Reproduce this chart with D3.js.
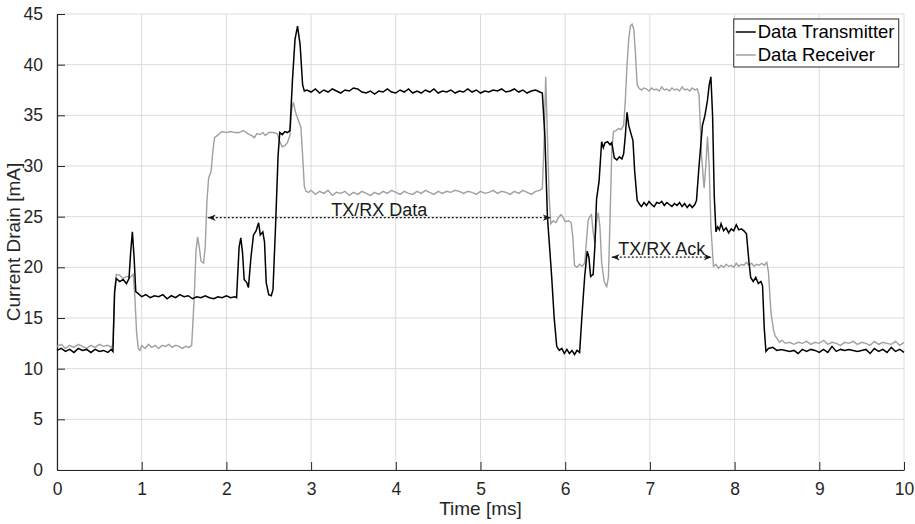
<!DOCTYPE html>
<html>
<head>
<meta charset="utf-8">
<script src="https://cdn.jsdelivr.net/npm/d3@7"></script>
<style>
  body { margin: 0; background: #fff; }
  svg { font-family: "Liberation Sans", Arial, sans-serif; }
</style>
</head>
<body>
<script>
// transmitter current [time ms, mA]
var txData = [
  [0.00,11.8],[0.05,12.0],[0.10,11.7],[0.15,11.9],[0.20,11.6],[0.25,12.0],[0.30,11.8],[0.35,11.9],[0.40,11.6],[0.45,11.9],
  [0.50,11.7],[0.55,11.8],[0.60,11.6],[0.64,11.9],[0.66,11.7],[0.68,17.5],[0.70,18.9],[0.74,18.6],[0.78,18.8],[0.82,18.4],
  [0.85,18.9],[0.87,21.5],[0.89,23.5],[0.91,21.0],[0.93,17.6],[0.96,17.4],[1.00,17.1],[1.05,17.3],[1.10,17.0],[1.15,17.2],
  [1.20,17.1],[1.25,17.3],[1.30,16.9],[1.35,17.2],[1.40,17.0],[1.45,17.3],[1.50,17.1],[1.55,17.2],[1.60,16.9],[1.65,17.1],
  [1.70,17.0],[1.75,17.2],[1.80,17.0],[1.85,16.9],[1.90,17.1],[1.95,17.0],[2.00,17.2],[2.05,17.0],[2.10,17.1],[2.12,17.0],
  [2.15,22.0],[2.17,22.9],[2.19,21.5],[2.21,18.8],[2.24,18.5],[2.26,18.0],[2.29,21.0],[2.32,23.2],[2.35,23.6],[2.38,24.4],
  [2.40,23.2],[2.43,23.5],[2.45,22.5],[2.47,18.5],[2.50,17.3],[2.53,17.2],[2.55,17.8],[2.58,24.0],[2.61,31.0],[2.63,33.3],
  [2.66,33.1],[2.69,33.4],[2.72,33.3],[2.75,33.5],[2.78,38.5],[2.81,42.5],[2.84,43.8],[2.87,42.0],[2.90,38.0],[2.92,37.4],
  [2.95,37.5],[3.00,37.3],[3.05,37.6],[3.10,37.2],[3.15,37.5],[3.20,37.3],[3.25,37.6],[3.30,37.4],[3.35,37.2],[3.40,37.5],
  [3.45,37.4],[3.50,37.7],[3.55,37.6],[3.60,37.3],[3.65,37.2],[3.70,37.4],[3.75,37.1],[3.80,37.4],[3.85,37.3],[3.90,37.6],
  [3.95,37.3],[4.00,37.2],[4.05,37.5],[4.10,37.3],[4.15,37.6],[4.20,37.2],[4.25,37.4],[4.30,37.2],[4.35,37.5],[4.40,37.3],
  [4.45,37.6],[4.50,37.2],[4.55,37.4],[4.60,37.3],[4.65,37.5],[4.70,37.2],[4.75,37.4],[4.80,37.3],[4.85,37.6],[4.90,37.3],
  [4.95,37.5],[5.00,37.2],[5.05,37.4],[5.10,37.3],[5.15,37.5],[5.20,37.4],[5.25,37.6],[5.30,37.3],[5.35,37.4],[5.40,37.6],
  [5.45,37.3],[5.50,37.5],[5.55,37.2],[5.60,37.4],[5.65,37.5],[5.70,37.3],[5.73,37.2],[5.76,33.0],[5.79,25.0],[5.82,21.5],
  [5.84,19.1],[5.87,15.0],[5.90,12.2],[5.93,11.8],[5.96,12.0],[5.99,11.5],[6.02,11.9],[6.05,11.5],[6.08,11.8],[6.11,11.4],
  [6.14,11.8],[6.17,11.6],[6.20,15.5],[6.23,19.1],[6.26,21.6],[6.28,21.0],[6.30,19.1],[6.33,19.3],[6.35,22.0],[6.37,26.7],
  [6.40,28.5],[6.43,32.4],[6.45,31.8],[6.47,32.3],[6.50,32.4],[6.53,32.1],[6.55,32.3],[6.58,30.8],[6.61,30.6],[6.64,30.9],
  [6.67,30.7],[6.69,31.2],[6.71,33.0],[6.73,35.3],[6.75,34.0],[6.78,33.1],[6.80,32.5],[6.82,29.5],[6.85,26.6],[6.88,26.2],
  [6.90,26.0],[6.93,26.4],[6.96,26.1],[6.99,26.5],[7.02,26.2],[7.05,26.0],[7.08,26.4],[7.11,26.3],[7.14,26.5],[7.17,26.1],
  [7.20,26.4],[7.23,26.2],[7.26,26.0],[7.29,26.3],[7.32,26.1],[7.35,26.4],[7.38,26.0],[7.41,26.3],[7.44,25.9],[7.47,26.2],
  [7.50,25.9],[7.53,26.2],[7.55,26.6],[7.58,30.0],[7.62,34.0],[7.65,35.0],[7.68,36.5],[7.70,38.0],[7.72,38.8],[7.74,35.0],
  [7.76,27.0],[7.78,23.5],[7.80,24.0],[7.82,23.7],[7.84,24.3],[7.87,23.6],[7.90,23.9],[7.93,23.4],[7.96,23.8],[7.99,23.6],
  [8.02,24.2],[8.05,23.7],[8.08,23.8],[8.11,23.6],[8.14,23.3],[8.17,20.5],[8.19,19.0],[8.22,18.6],[8.25,19.0],[8.28,18.4],
  [8.31,18.6],[8.33,18.2],[8.35,14.0],[8.37,11.7],[8.40,12.0],[8.45,12.1],[8.50,11.8],[8.55,11.9],[8.60,11.8],[8.65,11.7],
  [8.70,11.8],[8.75,11.5],[8.80,11.9],[8.85,11.7],[8.90,11.9],[8.95,11.8],[9.00,11.6],[9.05,11.9],[9.10,11.6],[9.15,12.2],
  [9.20,11.7],[9.25,11.9],[9.30,11.8],[9.35,11.9],[9.40,11.8],[9.45,11.7],[9.50,11.8],[9.55,11.9],[9.60,11.5],[9.65,12.0],
  [9.70,11.7],[9.75,11.9],[9.80,11.6],[9.85,12.1],[9.90,11.7],[9.95,11.9],[10.00,11.6]
];

// receiver current [time ms, mA]
var rxData = [
  [0.00,12.2],[0.05,12.4],[0.10,12.0],[0.15,12.3],[0.20,12.1],[0.25,12.4],[0.30,12.2],[0.35,12.0],[0.40,12.3],[0.45,12.1],
  [0.50,12.4],[0.55,12.2],[0.60,12.3],[0.64,12.1],[0.66,12.4],[0.68,17.8],[0.70,19.3],[0.74,19.2],[0.78,18.9],[0.82,19.1],
  [0.86,19.0],[0.90,19.3],[0.92,17.0],[0.94,13.5],[0.96,12.0],[0.98,11.8],[1.00,12.3],[1.04,12.0],[1.08,12.4],[1.12,12.1],
  [1.16,12.3],[1.20,12.0],[1.24,12.3],[1.28,12.2],[1.32,12.4],[1.36,12.1],[1.40,12.3],[1.44,12.2],[1.48,12.0],[1.52,12.2],
  [1.56,12.1],[1.59,12.3],[1.62,17.0],[1.64,21.5],[1.66,23.0],[1.68,22.0],[1.70,20.6],[1.73,20.4],[1.75,22.0],[1.77,26.5],
  [1.79,28.8],[1.82,29.5],[1.84,31.5],[1.86,32.8],[1.89,33.0],[1.92,33.2],[1.95,33.4],[2.00,33.3],[2.05,33.4],[2.10,33.3],
  [2.15,33.3],[2.20,33.5],[2.25,33.2],[2.30,33.0],[2.33,32.8],[2.36,33.2],[2.40,33.1],[2.43,33.3],[2.46,33.0],[2.50,33.3],
  [2.55,33.3],[2.60,33.2],[2.63,32.4],[2.66,31.9],[2.69,32.0],[2.72,32.3],[2.75,33.0],[2.77,35.5],[2.79,36.3],[2.82,35.2],
  [2.85,34.5],[2.88,33.8],[2.90,31.0],[2.92,28.0],[2.94,27.5],[2.97,27.4],[3.00,27.6],[3.05,27.2],[3.10,27.5],[3.15,27.3],
  [3.20,27.6],[3.25,27.1],[3.30,27.4],[3.35,27.3],[3.40,27.5],[3.45,27.1],[3.50,27.4],[3.55,27.2],[3.60,27.5],[3.65,27.3],
  [3.70,27.1],[3.75,27.4],[3.80,27.2],[3.85,27.5],[3.90,27.3],[3.95,27.6],[4.00,27.4],[4.05,27.2],[4.10,27.5],[4.15,27.3],
  [4.20,27.2],[4.25,27.5],[4.30,27.3],[4.35,27.6],[4.40,27.4],[4.45,27.2],[4.50,27.5],[4.55,27.3],[4.60,27.5],[4.65,27.4],
  [4.70,27.6],[4.75,27.5],[4.80,27.3],[4.85,27.5],[4.90,27.4],[4.95,27.2],[5.00,27.5],[5.05,27.3],[5.10,27.4],[5.15,27.6],
  [5.20,27.3],[5.25,27.5],[5.30,27.4],[5.35,27.2],[5.40,27.5],[5.45,27.3],[5.50,27.6],[5.55,27.4],[5.60,27.2],[5.65,27.5],
  [5.70,27.6],[5.73,27.8],[5.75,32.0],[5.77,38.8],[5.79,33.0],[5.81,27.0],[5.83,24.3],[5.86,24.6],[5.89,24.4],[5.92,24.9],
  [5.95,25.2],[5.97,25.0],[6.00,24.5],[6.04,24.6],[6.07,24.4],[6.09,23.0],[6.11,20.2],[6.14,20.0],[6.17,20.3],[6.20,20.1],
  [6.23,20.4],[6.25,22.5],[6.27,24.6],[6.29,25.0],[6.31,25.2],[6.33,23.5],[6.35,22.4],[6.37,24.5],[6.39,25.4],[6.41,24.0],
  [6.43,20.5],[6.46,18.6],[6.49,18.1],[6.51,19.0],[6.53,25.0],[6.55,31.5],[6.57,33.4],[6.60,33.5],[6.63,33.7],[6.66,33.6],
  [6.69,34.0],[6.71,36.5],[6.73,40.0],[6.75,42.5],[6.77,43.8],[6.79,44.0],[6.81,43.5],[6.83,41.0],[6.85,38.0],[6.87,37.7],
  [6.90,37.5],[6.93,37.7],[6.96,37.6],[6.99,37.4],[7.02,37.7],[7.05,37.5],[7.08,37.6],[7.11,37.4],[7.14,37.8],[7.17,37.5],
  [7.20,37.6],[7.23,37.4],[7.26,37.7],[7.29,37.5],[7.32,37.6],[7.35,37.4],[7.38,37.8],[7.41,37.5],[7.44,37.6],[7.47,37.4],
  [7.50,37.7],[7.53,37.5],[7.56,37.6],[7.58,37.0],[7.61,31.0],[7.64,27.8],[7.66,30.0],[7.68,32.9],[7.70,30.0],[7.72,24.0],
  [7.75,20.1],[7.78,20.3],[7.81,19.9],[7.84,20.2],[7.87,20.0],[7.90,20.3],[7.93,20.1],[7.96,20.2],[7.99,20.0],[8.02,20.4],
  [8.05,20.1],[8.08,20.3],[8.11,20.2],[8.14,20.5],[8.17,20.2],[8.20,20.4],[8.23,20.1],[8.26,20.3],[8.29,20.2],[8.32,20.4],
  [8.35,20.2],[8.38,20.5],[8.40,19.5],[8.43,15.5],[8.46,13.8],[8.48,13.2],[8.50,13.0],[8.53,12.6],[8.56,12.8],[8.60,12.5],
  [8.65,12.6],[8.70,12.4],[8.75,12.6],[8.80,12.5],[8.85,12.7],[8.90,12.4],[8.95,12.6],[9.00,12.5],[9.05,12.8],[9.10,12.4],
  [9.15,12.6],[9.20,12.5],[9.25,12.3],[9.30,12.6],[9.35,12.5],[9.40,12.7],[9.45,12.4],[9.50,12.6],[9.55,12.5],[9.60,12.3],
  [9.65,12.7],[9.70,12.4],[9.75,12.6],[9.80,12.5],[9.85,12.4],[9.90,12.7],[9.95,12.3],[10.00,12.6]
];

var xTicks = [0, 1, 2, 3, 4, 5, 6, 7, 8, 9, 10];
var yTicks = [0, 5, 10, 15, 20, 25, 30, 35, 40, 45];
var seriesNames = ["Data Transmitter", "Data Receiver"];
var seriesColors = ["#000000", "#a0a0a0"];

// annotations: [start ms, end ms, level mA, label]
var dataSpan = [1.78, 5.83, 24.9, "TX/RX Data"];
var ackSpan = [6.55, 7.73, 21.0, "TX/RX Ack"];

var margin = { top: 14, right: 11, bottom: 54, left: 57 },
    width = 915 - margin.left - margin.right,
    height = 524 - margin.top - margin.bottom;

var svg = d3.select("body").append("svg")
    .attr("width", width + margin.left + margin.right)
    .attr("height", height + margin.top + margin.bottom)
    .append("g")
    .attr("transform", "translate(" + margin.left + "," + margin.top + ")");

var x = d3.scaleLinear().domain([0, 10]).range([0, width]);
var y = d3.scaleLinear().domain([0, 45]).range([height, 0]);

// grid
svg.append("g").selectAll("line").data(xTicks).enter().append("line")
    .attr("x1", d => x(d)).attr("x2", d => x(d))
    .attr("y1", 0).attr("y2", height)
    .style("stroke", "#dcdcdc").style("stroke-width", 1);
svg.append("g").selectAll("line").data(yTicks).enter().append("line")
    .attr("x1", 0).attr("x2", width)
    .attr("y1", d => y(d)).attr("y2", d => y(d))
    .style("stroke", "#dcdcdc").style("stroke-width", 1);

// axes with inward ticks
var xAxis = svg.append("g")
    .attr("transform", "translate(0," + height + ")")
    .call(d3.axisBottom(x).tickValues(xTicks).tickSizeInner(-8).tickSizeOuter(0).tickPadding(13));
var yAxis = svg.append("g")
    .call(d3.axisLeft(y).tickValues(yTicks).tickSizeInner(-8).tickSizeOuter(0).tickPadding(14));

[xAxis, yAxis].forEach(function(a) {
    a.select(".domain").style("stroke", "#262626").style("stroke-width", 1.2);
    a.selectAll(".tick line").style("stroke", "#262626");
    a.selectAll(".tick text")
        .style("font-size", "17.5px")
        .style("font-family", "Liberation Sans, Arial, sans-serif")
        .style("fill", "#262626");
});

// axis labels
svg.append("text")
    .attr("x", width / 2)
    .attr("y", height + 45)
    .attr("text-anchor", "middle")
    .style("font-size", "19px")
    .style("fill", "#262626")
    .text("Time [ms]");

svg.append("text")
    .attr("transform", "translate(" + (-37) + "," + (height / 2) + ") rotate(-90)")
    .attr("text-anchor", "middle")
    .style("font-size", "19px")
    .style("fill", "#262626")
    .text("Current Drain [mA]");

// lines
var line = d3.line().x(d => x(d[0])).y(d => y(d[1]));

svg.append("path")
    .datum(rxData)
    .attr("d", line)
    .style("fill", "none")
    .style("stroke", seriesColors[1])
    .style("stroke-width", 1.4);

svg.append("path")
    .datum(txData)
    .attr("d", line)
    .style("fill", "none")
    .style("stroke", seriesColors[0])
    .style("stroke-width", 1.5);

// double arrows for annotations
var defs = svg.append("defs");
defs.append("marker")
    .attr("id", "arrowhead")
    .attr("viewBox", "0 0 10 10")
    .attr("refX", 10).attr("refY", 5)
    .attr("markerWidth", 8).attr("markerHeight", 8)
    .attr("markerUnits", "userSpaceOnUse")
    .attr("orient", "auto-start-reverse")
    .append("path")
    .attr("d", "M0,1 L10,5 L0,9 L3,5 Z")
    .style("fill", "#1a1a1a");

[dataSpan, ackSpan].forEach(function(s) {
    svg.append("line")
        .attr("x1", x(s[0])).attr("x2", x(s[1]))
        .attr("y1", y(s[2])).attr("y2", y(s[2]))
        .style("stroke", "#1a1a1a")
        .style("stroke-width", 1.2)
        .style("stroke-dasharray", "2,2")
        .attr("marker-start", "url(#arrowhead)")
        .attr("marker-end", "url(#arrowhead)");
    svg.append("text")
        .attr("x", (x(s[0]) + x(s[1])) / 2)
        .attr("y", y(s[2]) - 2)
        .attr("text-anchor", "middle")
        .style("font-size", "18px")
        .style("fill", "#1a1a1a")
        .text(s[3]);
});

// legend
var legend = svg.append("g")
    .attr("transform", "translate(" + (x(7.99)) + "," + 5 + ")");

legend.append("rect")
    .attr("width", 165).attr("height", 48)
    .style("fill", "#fff")
    .style("stroke", "#262626")
    .style("stroke-width", 1);

seriesNames.forEach(function(name, i) {
    legend.append("line")
        .attr("x1", 2).attr("x2", 22)
        .attr("y1", 13 + i * 23).attr("y2", 13 + i * 23)
        .style("stroke", seriesColors[i])
        .style("stroke-width", 1.5);
    legend.append("text")
        .attr("x", 24)
        .attr("y", 13 + i * 23)
        .attr("dy", "0.35em")
        .style("font-size", "18.5px")
        .style("fill", "#000")
        .text(name);
});
</script>
</body>
</html>
